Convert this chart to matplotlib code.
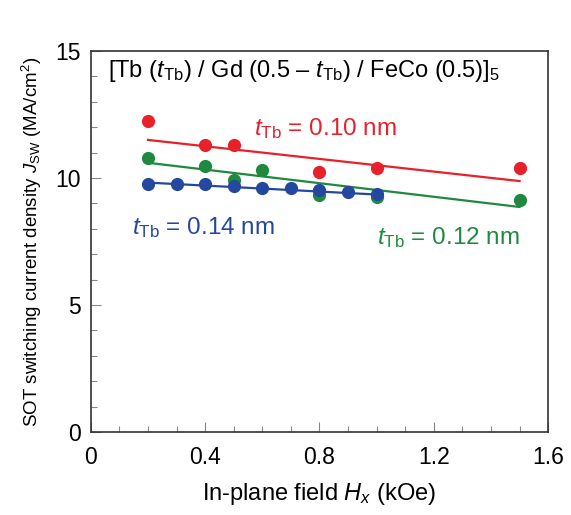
import matplotlib
matplotlib.use("Agg")
import matplotlib.pyplot as plt
from matplotlib.ticker import MultipleLocator

plt.rcParams["font.family"] = "Liberation Sans"
plt.rcParams["mathtext.fontset"] = "custom"
plt.rcParams["mathtext.rm"] = "Liberation Sans"
plt.rcParams["mathtext.it"] = "Liberation Sans:italic"

# t_Tb = 0.10 nm
x_010 = [0.2, 0.4, 0.5, 0.8, 1.0, 1.5]
y_010 = [12.25, 11.3, 11.3, 10.25, 10.4, 10.4]
fit_x_010 = [0.2, 1.5]
fit_y_010 = [11.5, 9.88]

# t_Tb = 0.12 nm
x_012 = [0.2, 0.4, 0.5, 0.6, 0.8, 1.0, 1.5]
y_012 = [10.8, 10.47, 9.92, 10.3, 9.35, 9.27, 9.12]
fit_x_012 = [0.2, 1.5]
fit_y_012 = [10.6, 8.86]

# t_Tb = 0.14 nm
x_014 = [0.2, 0.3, 0.4, 0.5, 0.6, 0.7, 0.8, 0.9, 1.0]
y_014 = [9.78, 9.77, 9.77, 9.7, 9.62, 9.62, 9.52, 9.45, 9.38]
fit_x_014 = [0.2, 1.0]
fit_y_014 = [9.82, 9.35]

red = "#E8202A"
green = "#1F8A3F"
blue = "#2447A0"

fig = plt.figure(figsize=(5.71, 5.15), dpi=100)
ax = fig.add_axes([0.159, 0.161, 0.801, 0.740])

ax.plot(fit_x_010, fit_y_010, color=red, lw=1.6, zorder=2)
ax.plot(x_010, y_010, "o", color=red, ms=9.5, mec="none", zorder=3)

ax.plot(fit_x_012, fit_y_012, color=green, lw=1.6, zorder=2)
ax.plot(x_012, y_012, "o", color=green, ms=9.5, mec="none", zorder=3)

ax.plot(fit_x_014, fit_y_014, color=blue, lw=1.6, zorder=4)
ax.plot(x_014, y_014, "o", color=blue, ms=9.5, mec="none", zorder=5)

ax.text(0.572, 11.95, r"$t_{\rm Tb}$ = 0.10 nm", color=red, fontsize=17.5, va="center")
ax.text(0.145, 8.05, r"$t_{\rm Tb}$ = 0.14 nm", color=blue, fontsize=17.5, va="center")
ax.text(1.0, 7.65, r"$t_{\rm Tb}$ = 0.12 nm", color=green, fontsize=17.5, va="center")
ax.text(0.06, 14.2, r"[Tb ($t_{\rm Tb}$) / Gd (0.5 – $t_{\rm Tb}$) / FeCo (0.5)]$_5$",
        fontsize=17, va="center")

ax.set_xlim(0, 1.6)
ax.set_ylim(0, 15)
ax.xaxis.set_major_locator(MultipleLocator(0.4))
ax.xaxis.set_minor_locator(MultipleLocator(0.1))
ax.yaxis.set_major_locator(MultipleLocator(5))
ax.yaxis.set_minor_locator(MultipleLocator(1))
ax.set_xticks([0, 0.4, 0.8, 1.2, 1.6])
ax.set_xticklabels(["0", "0.4", "0.8", "1.2", "1.6"])
ax.tick_params(which="both", direction="in", top=False, right=False, labelsize=16.5)
ax.tick_params(axis="x", pad=10)
ax.tick_params(axis="y", pad=7)
ax.tick_params(which="major", length=7, width=0.8, color="#888888")
ax.tick_params(which="minor", length=4, width=0.8, color="#888888")
for s in ax.spines.values():
    s.set_linewidth(1.2)
    s.set_color("#333333")

ax.set_xlabel(r"In-plane field $H_x$ (kOe)", fontsize=17, labelpad=9)
ax.set_ylabel(r"SOT switching current density $J_{\rm SW}$ (MA/cm$^2$)", fontsize=13.5, labelpad=8)

fig.savefig("out.png", dpi=100)
